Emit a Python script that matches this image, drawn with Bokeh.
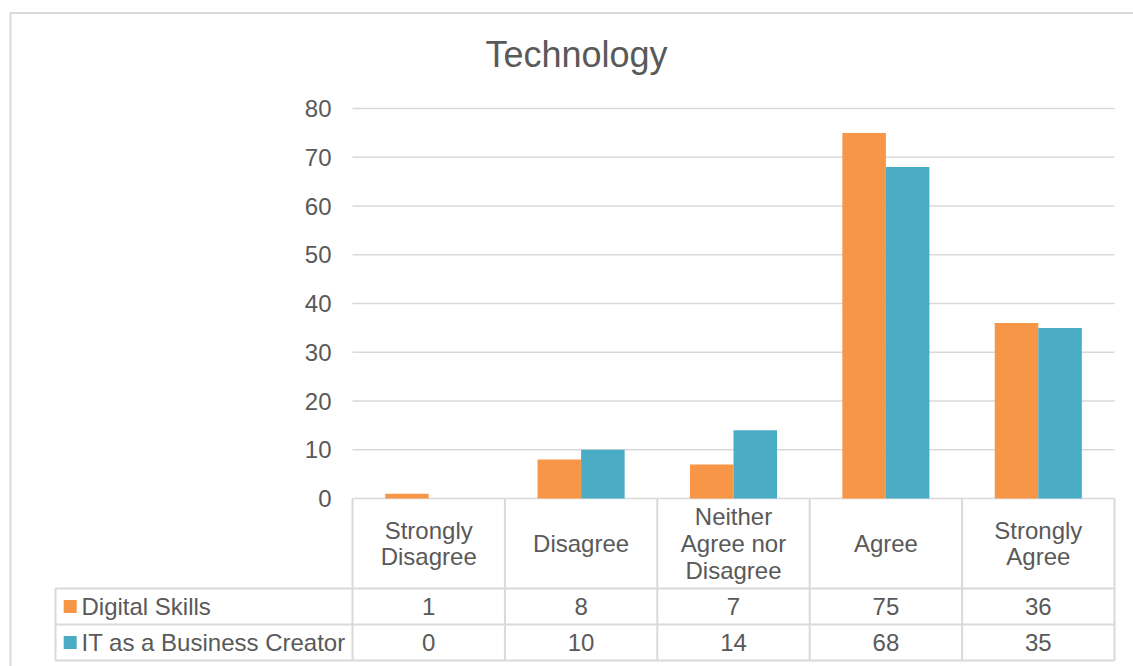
from bokeh.plotting import figure
from bokeh.models import Range1d
from bokeh.core.properties import value
from bokeh.embed import file_html
from bokeh.resources import INLINE

# ---- data ----
title = "Technology"
categories = ["Strongly\nDisagree", "Disagree", "Neither\nAgree nor\nDisagree", "Agree", "Strongly\nAgree"]
series_names = ["Digital Skills", "IT as a Business Creator"]
digital_skills = [1, 8, 7, 75, 36]
it_business_creator = [0, 10, 14, 68, 35]
y_ticks = [0, 10, 20, 30, 40, 50, 60, 70, 80]
colors = ["#F79646", "#4BACC6"]

# ---- layout (canvas pixels) ----
W, H = 1133, 666
PL, PR, PT, PB = 352, 1114, 108, 498      # plot area box
Y_MAX = 80
n = len(categories)
ux = (PR - PL) / n                          # pixels per category
uy = (PB - PT) / Y_MAX                      # pixels per value unit
ROW_TOPS = [PB, 588, 624, 660]              # table row boundaries
TABLE_LEFT = 55
FONT = value("Liberation Sans")
TXT = "#595959"
LINE = "#D9D9D9"

p = figure(width=W, height=H, output_backend="svg", toolbar_location=None,
           x_axis_location=None, y_axis_location=None, min_border=0,
           x_range=Range1d(-PL / ux, (W - PL) / ux),
           y_range=Range1d(-(H - PB) / uy, PB / uy))
p.extra_x_ranges = {"px": Range1d(0, W)}
p.extra_y_ranges = {"px": Range1d(H, 0)}
p.grid.visible = False
p.outline_line_color = None
p.background_fill_color = "white"
p.border_fill_color = "white"

# outer chart border (left and top edges)
p.line(x=[10, 10, W], y=[H, 12.5, 12.5], x_range_name="px", y_range_name="px",
       line_color=LINE, line_width=2)

# title
p.text(x=[576], y=[54], text=[title], x_range_name="px", y_range_name="px",
       text_font=FONT, text_font_size="36px", text_color=TXT,
       text_align="center", text_baseline="middle")

# horizontal gridlines
p.segment(x0=[0] * len(y_ticks), x1=[n] * len(y_ticks), y0=y_ticks, y1=y_ticks,
          line_color=LINE, line_width=1.6)

# y tick labels
p.text(x=[331] * len(y_ticks), y=y_ticks, text=[str(t) for t in y_ticks],
       x_range_name="px", text_font=FONT, text_font_size="24px", text_color=TXT,
       text_align="right", text_baseline="middle")

# clustered bars (gap width 150%)
bw = 1 / 3.5
centers = [i + 0.5 for i in range(n)]
for k, (vals, col) in enumerate(zip([digital_skills, it_business_creator], colors)):
    off = (k - 0.5) * bw
    p.vbar(x=[c + off for c in centers], top=vals, bottom=0, width=bw,
           fill_color=col, line_color=None)

# data table grid
for yy in ROW_TOPS[1:]:
    p.segment(x0=[TABLE_LEFT], x1=[PR], y0=[yy], y1=[yy],
              x_range_name="px", y_range_name="px", line_color=LINE, line_width=2)
p.segment(x0=list(range(n + 1)), x1=list(range(n + 1)),
          y0=[ROW_TOPS[0]] * (n + 1), y1=[ROW_TOPS[-1]] * (n + 1),
          y_range_name="px", line_color=LINE, line_width=2)
p.segment(x0=[TABLE_LEFT], x1=[TABLE_LEFT], y0=[ROW_TOPS[1]], y1=[ROW_TOPS[-1]],
          x_range_name="px", y_range_name="px", line_color=LINE, line_width=2)

# category header cells
p.text(x=centers, y=[(ROW_TOPS[0] + ROW_TOPS[1]) / 2] * n, text=categories,
       y_range_name="px", text_font=FONT, text_font_size="24px", text_color=TXT,
       text_align="center", text_baseline="middle", text_line_height=0.99)

# value rows with legend keys
for r, (name, vals, col) in enumerate(zip(series_names, [digital_skills, it_business_creator], colors)):
    yc = (ROW_TOPS[r + 1] + ROW_TOPS[r + 2]) / 2
    p.text(x=centers, y=[yc] * n, text=[str(v) for v in vals],
           y_range_name="px", text_font=FONT, text_font_size="24px", text_color=TXT,
           text_align="center", text_baseline="middle")
    p.rect(x=[69.7], y=[yc], width=13, height=13, x_range_name="px", y_range_name="px",
           fill_color=col, line_color=None)
    p.text(x=[81], y=[yc], text=[name], x_range_name="px", y_range_name="px",
           text_font=FONT, text_font_size="24px", text_color=TXT,
           text_align="left", text_baseline="middle")

open("out.html", "w").write(file_html(p, INLINE))
